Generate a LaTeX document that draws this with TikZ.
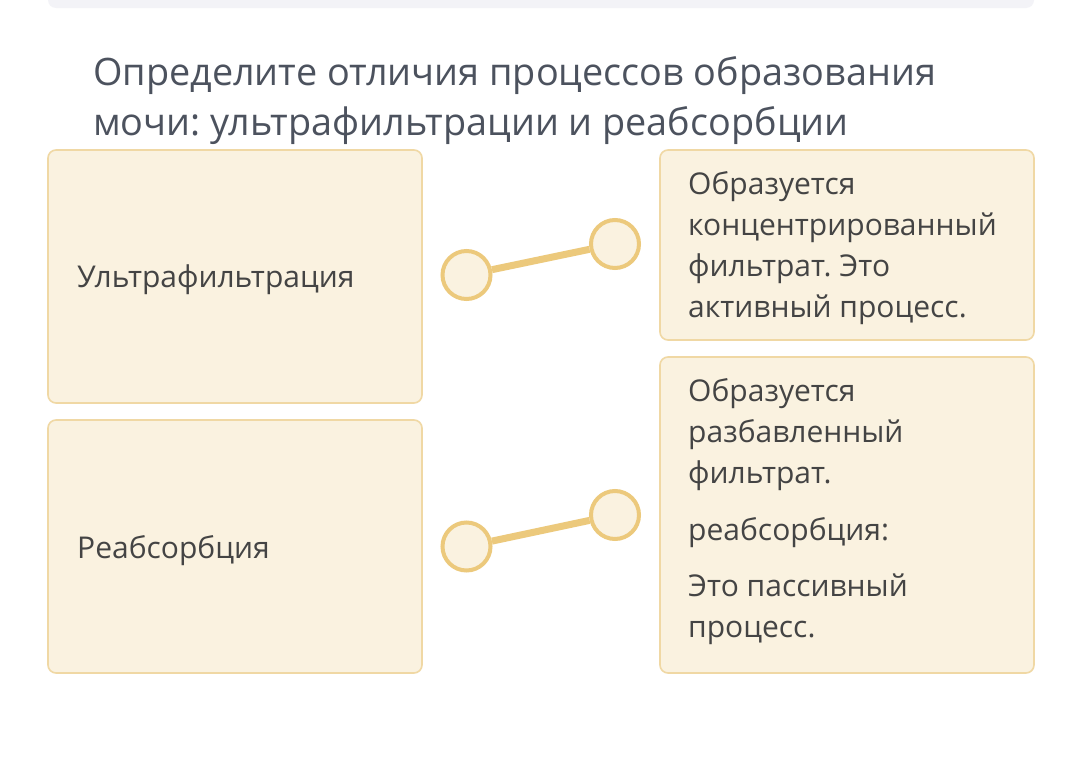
\documentclass[tikz,border=0pt]{standalone}
\usepackage{fontspec}
\setmainfont{Open Sans}
\frenchspacing
\definecolor{boxfill}{RGB}{250,242,224}
\definecolor{boxline}{RGB}{240,216,164}
\definecolor{knob}{RGB}{236,201,124}
\definecolor{titlec}{RGB}{76,82,94}
\definecolor{textc}{RGB}{68,68,68}
\definecolor{barc}{RGB}{243,243,247}
\tikzset{
  card/.style={draw=boxline, fill=boxfill, line width=1.6pt, rounded corners=8pt},
  knobc/.style={circle, draw=knob, fill=boxfill, line width=4pt, minimum size=48pt, inner sep=0pt},
  link/.style={draw=knob, line width=7pt},
  body/.style={font=\fontsize{30}{41}\selectfont, text=textc, inner sep=0pt, align=left},
}
\begin{document}
\begin{tikzpicture}[x=1pt,y=-1pt]
\useasboundingbox (0,0) rectangle (1080,779);
\fill[white] (0,0) rectangle (1080,779);
\fill[barc, rounded corners=8pt] (48,-20) rectangle (1034,8);
\node[anchor=base west, inner sep=0pt, text=titlec, font=\fontsize{37.8}{50}\selectfont] (t1) at (93,85) {Определите отличия процессов образования};
\node[anchor=base west, inner sep=0pt, text=titlec, font=\fontsize{37.8}{50}\selectfont] (t2) at (93,135) {мочи: ультрафильтрации и реабсорбции};
\path[card] (48,150) rectangle (422,403);
\path[card] (48,420) rectangle (422,673);
\path[card] (660,150) rectangle (1034,340);
\path[card] (660,357) rectangle (1034,673);
\node[body, anchor=base west] (l1) at (77,287) {Ультрафильтрация};
\node[body, anchor=base west] (l2) at (77,558) {Реабсорбция};
\node[body, anchor=north west] (r1) at (688,171.5) {Образуется\\концентрированный\\фильтрат. Это\\активный процесс.};
\node[body, anchor=north west] (r2) at (688,378.5) {Образуется\\разбавленный\\фильтрат.\\[16pt]реабсорбция:\\[15pt]Это пассивный\\процесс.};
\node[knobc] (a1) at (466.5,275) {};
\node[knobc] (b1) at (615,244) {};
\node[knobc] (a2) at (466.5,546.5) {};
\node[knobc] (b2) at (615,515) {};
\draw[link] (a1) -- (b1);
\draw[link] (a2) -- (b2);
\end{tikzpicture}
\end{document}
